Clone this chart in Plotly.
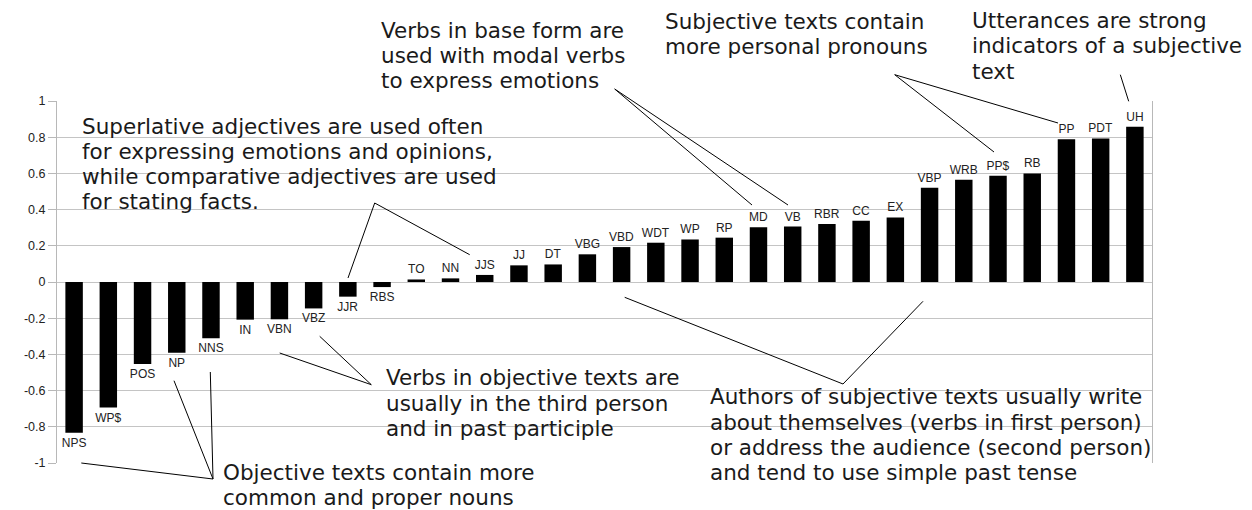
import plotly.graph_objects as go

# ---------------- data ----------------
categories = ["NPS", "WP$", "POS", "NP", "NNS", "IN", "VBN", "VBZ", "JJR", "RBS",
              "TO", "NN", "JJS", "JJ", "DT", "VBG", "VBD", "WDT", "WP", "RP",
              "MD", "VB", "RBR", "CC", "EX", "VBP", "WRB", "PP$", "RB", "PP",
              "PDT", "UH"]
values = [-0.833, -0.694, -0.453, -0.391, -0.311, -0.208, -0.206, -0.146, -0.081, -0.028,
          0.014, 0.020, 0.039, 0.092, 0.097, 0.153, 0.193, 0.217, 0.235, 0.245,
          0.302, 0.306, 0.320, 0.339, 0.357, 0.521, 0.565, 0.587, 0.600, 0.788,
          0.793, 0.858]
tick_values = [1, 0.8, 0.6, 0.4, 0.2, 0, -0.2, -0.4, -0.6, -0.8, -1]
tick_labels = ["1", "0.8", "0.6", "0.4", "0.2", "0", "-0.2", "-0.4", "-0.6", "-0.8", "-1"]

note_superlative = ["Superlative adjectives are used often",
                    "for expressing emotions and opinions,",
                    "while comparative adjectives are used",
                    "for stating facts."]
note_base_form = ["Verbs in base form are", "used with modal verbs", "to express emotions"]
note_pronouns = ["Subjective texts contain", "more personal pronouns"]
note_utterances = ["Utterances are strong", "indicators of a subjective", "text"]
note_verbs_obj = ["Verbs in objective texts are", "usually in the third person",
                  "and in past participle"]
note_nouns = ["Objective texts contain more", "common and proper nouns"]
note_authors = ["Authors of subjective texts usually write",
                "about themselves (verbs in first person)",
                "or address the audience (second person)",
                "and tend to use simple past tense"]

# ---------------- layout geometry ----------------
W, H = 1252, 510
ML, MR, MT, MB = 49, 108, 93, 55
PW, PH = W - ML - MR, H - MT - MB


def px(x):
    return (x - ML) / PW


def py(y):
    return (H - MB - y) / PH


FS = 21.5
LH = 25.3
BASELINE_FIX = 7.0
TEXT_FONT = dict(family="DejaVu Sans", size=FS, color="#1a1a1a")

fig = go.Figure()
fig.add_trace(go.Bar(
    x=categories, y=values,
    marker=dict(color="black", line=dict(width=0)),
    text=categories, textposition="outside",
    textfont=dict(family="Liberation Sans, Arial", size=12, color="#222"),
    cliponaxis=False, constraintext="none",
    hoverinfo="x+y",
))

annotations = []


def add_block(lines, left, first_baseline):
    for i, t in enumerate(lines):
        b = first_baseline + i * LH
        annotations.append(dict(
            text=t, x=px(left), y=py(b - 0.346 * FS - BASELINE_FIX),
            xref="paper", yref="paper",
            xanchor="left", yanchor="middle", showarrow=False, font=TEXT_FONT,
            borderpad=0, align="left"))


add_block(note_superlative, 72.7, 132.5)
add_block(note_base_form, 372, 36.7)
add_block(note_pronouns, 656, 28)
add_block(note_utterances, 963, 27)
add_block(note_verbs_obj, 377.3, 384.3)
add_block(note_nouns, 214.3, 478.5)
add_block(note_authors, 700.7, 403.3)

shapes = []
# white boxes behind the notes (hide the gridlines)
for (x0, y0, x1, y1) in [(60, 100, 520, 218), (365, 360, 690, 445),
                         (207, 450, 553, 515), (687, 372, 1150, 495)]:
    shapes.append(dict(type="rect", xref="paper", yref="paper",
                       x0=px(x0), x1=px(x1), y0=py(y1), y1=py(y0),
                       fillcolor="white", line=dict(width=0), layer="between"))

# callout lines
callouts = [
    ((366.7, 195), (340, 270)), ((366.7, 195), (461.7, 246.7)),
    ((606.7, 81), (744, 197)), ((606.7, 81), (780, 197)),
    ((886.7, 66.7), (986, 144)), ((886.7, 66.7), (1050, 115)),
    ((1112.3, 66.7), (1120.7, 93.3)),
    ((363.3, 376.7), (271.7, 345)), ((363.3, 376.7), (311.7, 328.3)),
    ((205, 471), (73.3, 455)), ((205, 471), (166, 372.7)), ((205, 471), (202.3, 364)),
    ((616.7, 289.3), (835, 376)), ((835, 376), (915, 293.3)),
]
for (a, b) in callouts:
    shapes.append(dict(type="line", xref="paper", yref="paper",
                       x0=px(a[0]), y0=py(a[1]), x1=px(b[0]), y1=py(b[1]),
                       line=dict(color="black", width=1), layer="above"))

fig.update_layout(
    width=W, height=H,
    margin=dict(l=ML, r=MR, t=MT, b=MB, pad=0),
    paper_bgcolor="white", plot_bgcolor="white",
    showlegend=False, bargap=0.49,
    annotations=annotations, shapes=shapes,
    xaxis=dict(range=[-0.5, len(categories) - 0.5], showticklabels=False,
               showgrid=False, zeroline=False, showline=False, ticks="",
               fixedrange=True),
    yaxis=dict(range=[-1, 1], tickvals=tick_values, ticktext=tick_labels,
               showgrid=True, gridcolor="#c4c4c4", gridwidth=1,
               zeroline=True, zerolinecolor="#c4c4c4", zerolinewidth=1,
               showline=True, linecolor="#b8b8b8", linewidth=1, mirror=True,
               ticks="outside", ticklen=8, tickcolor="#b8b8b8",
               tickfont=dict(family="Liberation Sans, Arial", size=12.5, color="#222"),
               fixedrange=True),
    font=dict(family="Liberation Sans, Arial"),
)

fig.write_html("out.html")
